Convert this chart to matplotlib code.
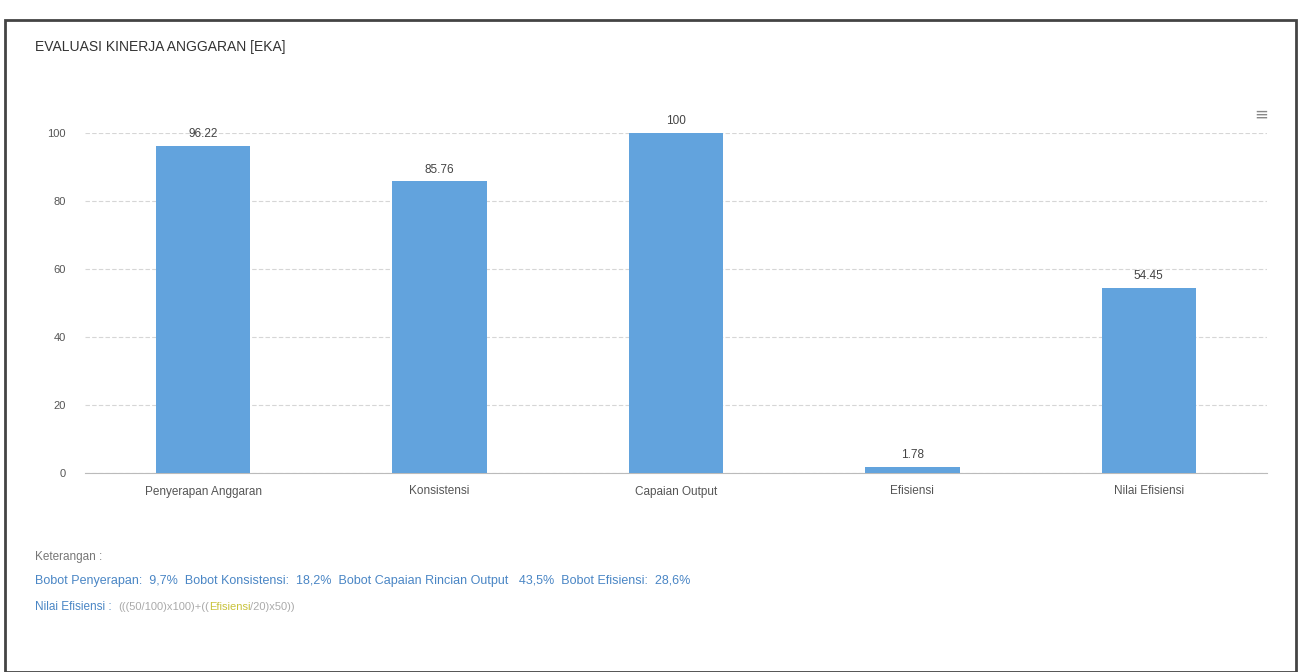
import matplotlib.pyplot as plt
from matplotlib.patches import Rectangle

plt.rcParams['font.family'] = ['Liberation Sans Narrow', 'Liberation Sans', 'DejaVu Sans']

# Data
categories = ["Penyerapan Anggaran", "Konsistensi", "Capaian Output", "Efisiensi", "Nilai Efisiensi"]
values = [96.22, 85.76, 100, 1.78, 54.45]
value_labels = ["96.22", "85.76", "100", "1.78", "54.45"]
y_ticks = [0, 20, 40, 60, 80, 100]

bar_color = "#62a3dd"

fig = plt.figure(figsize=(13, 6.72), dpi=100)
fig.patch.set_facecolor("white")

# outer panel border
fig.patches.append(Rectangle((5 / 1300, 0), 1291 / 1300, 1 - 20 / 672,
                             transform=fig.transFigure, fill=False,
                             edgecolor="#444444", linewidth=2.0))

ax = fig.add_axes([85 / 1300, 1 - 473 / 672, (1267 - 85) / 1300, (473 - 133) / 672])
x = range(len(categories))
ax.bar(x, values, width=0.4, color=bar_color, zorder=3)
ax.set_xlim(-0.5, len(categories) - 0.5)
ax.set_ylim(0, 100)
ax.set_yticks(y_ticks)
ax.set_yticklabels([str(t) for t in y_ticks], fontsize=8, color="#555555")
ax.set_xticks(list(x))
ax.set_xticklabels(categories, fontsize=8.5, color="#555555")
ax.tick_params(axis="y", length=0, pad=14)
ax.tick_params(axis="x", length=0, pad=9)
ax.grid(axis="y", color="#d6d6d6", linewidth=0.8, linestyle=(0, (4, 2)), zorder=0)
for s in ["top", "right", "left"]:
    ax.spines[s].set_visible(False)
ax.spines["bottom"].set_color("#bbbbbb")
ax.spines["bottom"].set_linewidth(0.8)

for xi, v, lab in zip(x, values, value_labels):
    ax.annotate(lab, (xi, v), xytext=(0, 4), textcoords="offset points",
                ha="center", va="bottom", fontsize=8.5, color="#444444")

# title and menu icon
fig.text(35 / 1300, 1 - 47 / 672, "EVALUASI KINERJA ANGGARAN [EKA]", fontsize=10,
         color="#333333", ha="left", va="center")
fig.text(1261 / 1300, 1 - 115 / 672, "≡", fontsize=12, color="#888888",
         ha="center", va="center", family="DejaVu Sans")

# notes
fig.text(35 / 1300, 1 - 557 / 672, "Keterangan :", fontsize=8.5, color="#777777",
         ha="left", va="center")
fig.text(35 / 1300, 1 - 581 / 672,
         "Bobot Penyerapan:  9,7%  Bobot Konsistensi:  18,2%  Bobot Capaian Rincian Output   43,5%  Bobot Efisiensi:  28,6%",
         fontsize=9, color="#4a86c5", ha="left", va="center")
t1 = fig.text(35 / 1300, 1 - 607 / 672, "Nilai Efisiensi :  ", fontsize=8.5,
              color="#4a86c5", ha="left", va="center")
t2 = fig.text(0, 0, "(((50/100)x100)+((", fontsize=8, color="#aaaaaa", va="center")
t3 = fig.text(0, 0, "Efisiensi", fontsize=8, color="#c8c23a", va="center")
t4 = fig.text(0, 0, "/20)x50))", fontsize=8, color="#aaaaaa", va="center")

fig.canvas.draw()
r = fig.canvas.get_renderer()
prev = t1
for t in [t2, t3, t4]:
    bb = prev.get_window_extent(r)
    x1 = bb.x1 / fig.bbox.width
    t.set_position((x1, 1 - 607 / 672))
    t.set_ha("left")
    fig.canvas.draw()
    prev = t

fig.savefig("out.png", dpi=100)
